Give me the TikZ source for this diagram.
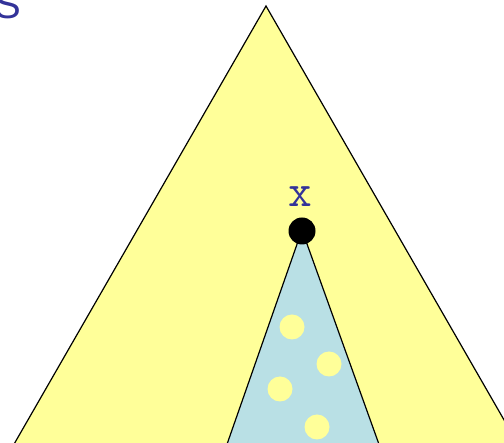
\documentclass[tikz,border=0pt]{standalone}
\usepackage{fontspec}
\newfontfamily\sansfont{Liberation Sans}
\definecolor{tyellow}{RGB}{255,255,153}
\definecolor{tblue}{RGB}{185,224,229}
\definecolor{tlabel}{RGB}{51,51,153}
\tikzset{
  tri/.style={draw=black,line width=1.2pt,line join=miter},
  ydot/.style={circle,fill=tyellow,inner sep=0pt,minimum size=25pt},
}
\begin{document}
\begin{tikzpicture}[x=1pt,y=-1pt]
\useasboundingbox (0,0) rectangle (504,443);
\clip (0,0) rectangle (504,443);
\fill[white] (0,0) rectangle (504,443);
\filldraw[tri,fill=tyellow] (266,6) -- (-75.6,600) -- (607.6,600) -- cycle;
\filldraw[tri,fill=tblue] (302,230) -- (207.5,500) -- (399,500) -- cycle;
\node[ydot] (d1) at (292,327) {};
\node[ydot] (d2) at (329,364) {};
\node[ydot] (d3) at (280,389) {};
\node[ydot] (d4) at (317,427) {};
\node[circle,fill=black,inner sep=0pt,minimum size=27pt] (dot) at (302,231) {};
\node[text=tlabel,font=\ttfamily\fontsize{46}{46}\selectfont,inner sep=0pt,anchor=base] (xl) at (300,207) {x};
\node[text=tlabel,font=\sansfont\fontsize{40}{40}\selectfont,anchor=base west,inner sep=0pt] (S) at (-6,19) {S};
\end{tikzpicture}
\end{document}
